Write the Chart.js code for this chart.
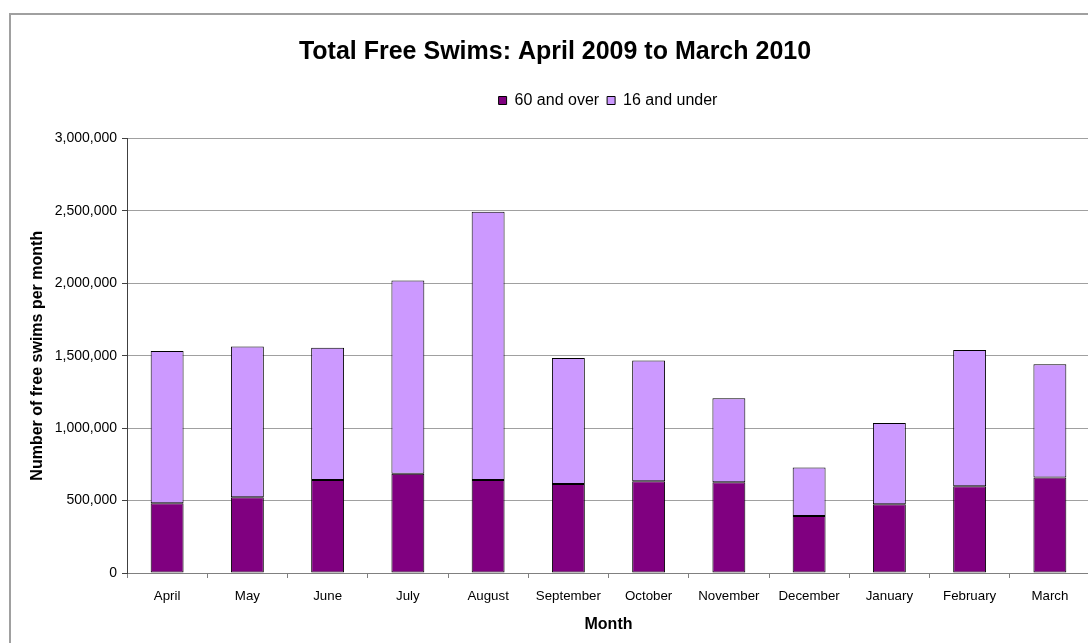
<!DOCTYPE html>
<html>
<head>
<meta charset="utf-8">
<script src="https://cdn.jsdelivr.net/npm/chart.js@4.4.1/dist/chart.umd.min.js"></script>
<style>
  html, body { margin: 0; padding: 0; background: #fff; overflow: hidden; }
  #frame { position: absolute; left: 9px; top: 13px; width: 1200px; height: 800px; border-left: 2px solid #a0a0a0; border-top: 2px solid #a0a0a0; box-sizing: border-box; }
  #wrap { position: absolute; left: 0; top: 0; width: 1092px; height: 643px; }
</style>
</head>
<body>
<div id="frame"></div>
<div id="wrap"><canvas id="c" width="1092" height="643"></canvas></div>
<script>
const months = ["April","May","June","July","August","September","October","November","December","January","February","March"];
const over60 = [482000, 523000, 642000, 685000, 642000, 614000, 633000, 626000, 394000, 475000, 599000, 660000];
const under16 = [1050000, 1041000, 913000, 1335000, 1853000, 870000, 835000, 580000, 335000, 561000, 940000, 782000];
const yTicks = [0, 500000, 1000000, 1500000, 2000000, 2500000, 3000000];

const FONT = "'Liberation Sans', Arial, sans-serif";
const LEGEND_EXTRA = 20;
const LEGEND_SHIFT = 53;

const legendSpacer = {
  id: 'legendSpacer',
  beforeLayout(chart) {
    const l = chart.legend;
    if (l && !l._spaced) {
      const orig = l.fit.bind(l);
      l.fit = function () { orig(); this.height += LEGEND_EXTRA; };
      l._spaced = true;
    }
  },
  afterLayout(chart) {
    const l = chart.legend;
    if (l) { l.left += LEGEND_SHIFT; l.right += LEGEND_SHIFT; }
  }
};

new Chart(document.getElementById('c'), {
  type: 'bar',
  data: {
    labels: months,
    datasets: [
      { label: '60 and over', data: over60, backgroundColor: '#800080', borderColor: '#000000', borderWidth: 1, borderSkipped: false },
      { label: '16 and under', data: under16, backgroundColor: '#CC99FF', borderColor: '#000000', borderWidth: 1, borderSkipped: false }
    ]
  },
  plugins: [legendSpacer],
  options: {
    responsive: false,
    animation: false,
    devicePixelRatio: 1,
    layout: { padding: { left: 20, right: 2, top: 0, bottom: 0 } },
    datasets: { bar: { barPercentage: 0.41, categoryPercentage: 1.0 } },
    plugins: {
      title: {
        display: true,
        text: 'Total Free Swims: April 2009 to March 2010',
        color: '#000',
        font: { family: FONT, size: 25, weight: 'bold' },
        padding: { top: 37, bottom: 17.5 }
      },
      legend: {
        display: true,
        position: 'top',
        labels: {
          color: '#000',
          font: { family: FONT, size: 16 },
          boxWidth: 8, boxHeight: 8,
          padding: 8
        }
      },
      tooltip: { enabled: false }
    },
    scales: {
      x: {
        stacked: true,
        grid: { display: true, drawOnChartArea: false, drawTicks: true, tickLength: 5, tickColor: '#808080', offset: true },
        border: { display: true, color: '#808080', width: 1 },
        ticks: { color: '#000', font: { family: FONT, size: 13.3 }, padding: 10, maxRotation: 0, autoSkip: false },
        title: { display: true, text: 'Month', color: '#000', font: { family: FONT, size: 16, weight: 'bold' }, padding: { top: 4, bottom: 9 } },
        afterFit: (s) => { s.height = 643 - 573; }
      },
      y: {
        stacked: true,
        min: 0, max: 3000000,
        afterBuildTicks: (s) => { s.ticks = yTicks.map(v => ({ value: v })); },
        grid: { color: '#a0a0a0', lineWidth: 1, drawTicks: true, tickLength: 5, tickColor: '#404040' },
        border: { display: true, color: '#404040', width: 1 },
        ticks: { color: '#000', font: { family: FONT, size: 14 }, padding: 5,
          callback: (v) => Number(v).toLocaleString('en-US') },
        title: { display: true, text: 'Number of free swims per month', color: '#000', font: { family: FONT, size: 16, weight: 'bold' }, padding: { top: 8, bottom: 2 } },
        afterFit: (s) => { s.width = 107; }
      }
    }
  }
});
</script>
</body>
</html>
